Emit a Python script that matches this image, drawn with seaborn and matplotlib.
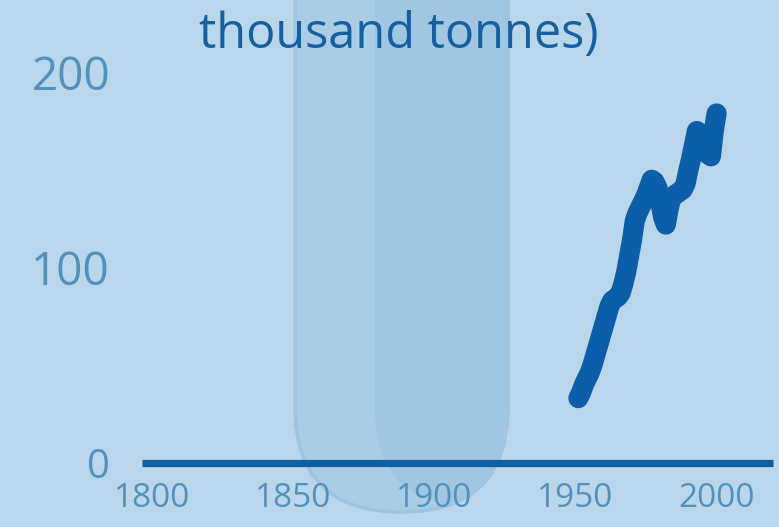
import matplotlib
matplotlib.use("Agg")
import matplotlib.pyplot as plt
from matplotlib.patches import FancyBboxPatch
from matplotlib.transforms import Affine2D
import seaborn as sns
import pandas as pd

# données (milliers de tonnes)
YEARS = list(range(1951, 2001))
VALUES = [33, 36, 40, 43, 46, 50, 55, 60, 65, 70,
          75, 80, 83, 84, 85, 87, 92, 98, 106, 114,
          124, 128, 131, 134, 137, 141, 145, 144, 141, 134,
          126, 122, 130, 136, 137, 138, 139, 140, 143, 150,
          156, 163, 170, 169, 166, 162, 158, 157, 170, 179]
X_TICKS = [1800, 1850, 1900, 1950, 2000]
Y_TICKS = [0, 100, 200]
TITLE = "thousand tonnes)"

# style
W, H = 779, 527
BG = "#bad6ea"
TUBE = "#aacce4"
TUBE_IN = "#a0c6e1"
LINE = "#0c5ea8"
BASE = "#115f9f"
LABEL = "#5091be"
TITLE_C = "#1660a2"

sns.set_style("white")
plt.rcParams["font.family"] = ["Open Sans", "DejaVu Sans"]

df = pd.DataFrame({"year": YEARS, "value": VALUES})

fig = plt.figure(figsize=(W / 100, H / 100), dpi=100, facecolor=BG)
ax = fig.add_axes([142 / W, (H - 462.5) / H, (773 - 142) / W, (462.5 - 72.5) / H])
ax.set_facecolor("none")

# tube décoratif en arrière-plan (coordonnées pixels)
px = Affine2D().scale(1 / W, 1 / H) + fig.transFigure
outer = FancyBboxPatch((295, H - 512), 213, 900,
                       boxstyle="round,pad=0,rounding_size=106",
                       transform=px, facecolor=TUBE, edgecolor="#9ec4e0",
                       linewidth=2.5, zorder=-2)
fig.add_artist(outer)
inner = FancyBboxPatch((375, H - 507), 220, 900,
                       boxstyle="round,pad=0,rounding_size=100",
                       transform=px, facecolor=TUBE_IN, edgecolor="none",
                       zorder=-1)
inner.set_clip_path(outer)
fig.add_artist(inner)

# ligne de base et série
ax.axhline(0, color=BASE, linewidth=5.2, solid_capstyle="butt", zorder=2, clip_on=False)
sns.lineplot(data=df, x="year", y="value", ax=ax, color=LINE, linewidth=14.5,
             solid_capstyle="round", solid_joinstyle="round", zorder=3, clip_on=False)

ax.set_xlim(1796.3, 2020)
ax.set_ylim(0, 200)
ax.set_xticks(X_TICKS)
ax.set_yticks(Y_TICKS)
ax.set_xlabel("")
ax.set_ylabel("")
ax.tick_params(axis="y", length=0, pad=23, labelsize=33, labelcolor=LABEL)
ax.tick_params(axis="x", length=0, pad=14, labelsize=24, labelcolor=LABEL)
# le « 0 » est un peu plus petit sur l'original
ax.get_yticklabels()[0].set_fontsize(29)
ax.grid(False)
sns.despine(ax=ax, left=True, bottom=True)

fig.text(399 / W, (H - 48) / H, TITLE, ha="center", va="baseline",
         fontsize=35, color=TITLE_C)

fig.savefig("out.png", dpi=100, facecolor=BG)
